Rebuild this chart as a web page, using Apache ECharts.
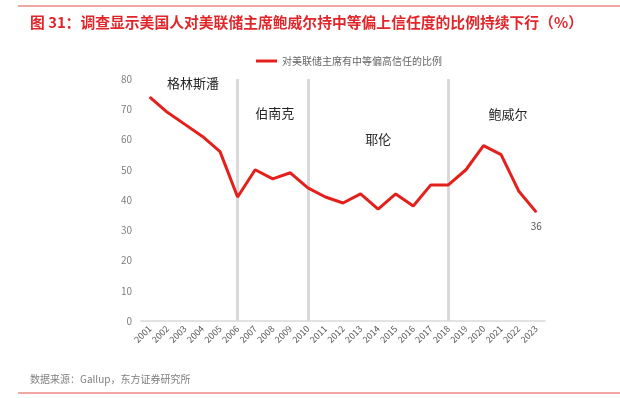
<!DOCTYPE html>
<html>
<head>
<meta charset="utf-8">
<script src="https://cdn.jsdelivr.net/npm/echarts@6/dist/echarts.min.js"></script>
<style>
  html, body { margin: 0; padding: 0; background: #fff; }
  #chart { width: 620px; height: 398px; }
</style>
</head>
<body>
<div id="chart"></div>
<script>
const years = ['2001','2002','2003','2004','2005','2006','2007','2008','2009','2010','2011','2012',
  '2013','2014','2015','2016','2017','2018','2019','2020','2021','2022','2023']
const trustValues = [74, 69, 65, 61, 56, 41, 50, 47, 49, 44, 41, 39, 42, 37, 42, 38, 45, 45, 50, 58, 55, 43, 36]
const dividerYears = ['2006', '2010', '2018']
// 各任主席名字，放在对应年份/数值附近
const chairNames = ['格林斯潘', '伯南克', '耶伦', '鲍威尔']
const chairYears = ['2003', '2008', '2014', '2021']
const chairLevels = [78.7, 68.8, 60.2, 68.4]
const chairOffsets = [[8, 0], [2, 0], [0, 0], [7, 0]]

const myChart = echarts.init(document.getElementById('chart'))
const font = 'Noto Sans CJK SC'

const option = {
  backgroundColor: '#fff',
  textStyle: { fontFamily: font },
  title: {
    text: '图 31：调查显示美国人对美联储主席鲍威尔持中等偏上信任度的比例持续下行（%）',
    left: 25,
    top: 10,
    textStyle: { color: '#e0262a', fontSize: 14.8, fontWeight: 'bold', fontFamily: font }
  },
  legend: {
    top: 51,
    left: 251,
    itemWidth: 21,
    itemHeight: 3,
    icon: 'rect',
    itemGap: 4,
    textStyle: { color: '#666', fontSize: 10 },
    data: ['对美联储主席有中等偏高信任的比例']
  },
  grid: { left: 141, right: 75, top: 79, bottom: 77 },
  xAxis: {
    type: 'category',
    data: years,
    boundaryGap: true,
    axisLine: { lineStyle: { color: '#d9d9d9', width: 1.5 } },
    axisTick: { show: false },
    axisLabel: { rotate: 45, color: '#595959', fontSize: 9, interval: 0, margin: 6 }
  },
  yAxis: {
    type: 'value',
    min: 0,
    max: 80,
    interval: 10,
    splitLine: { show: false },
    axisLine: { show: false },
    axisTick: { show: false },
    axisLabel: { color: '#7f7f7f', fontSize: 10, margin: 9 }
  },
  graphic: [
    { type: 'line', shape: { x1: 18, y1: 6, x2: 620, y2: 6 }, style: { stroke: '#ec8a85', lineWidth: 1.5 } },
    { type: 'line', shape: { x1: 18, y1: 393, x2: 620, y2: 393 }, style: { stroke: '#ec8a85', lineWidth: 1.5 } },
    { type: 'text', left: 30, top: 374, style: { text: '数据来源：Gallup，东方证券研究所', fill: '#808080', fontSize: 10, fontFamily: font } }
  ],
  series: [
    {
      name: '对美联储主席有中等偏高信任的比例',
      type: 'line',
      data: trustValues,
      symbol: 'circle',
      symbolSize: 1,
      showSymbol: true,
      color: '#e3201b',
      itemStyle: { color: '#e3201b' },
      lineStyle: { width: 3, color: '#e3201b' },
      label: {
        show: true,
        position: 'bottom',
        distance: 9,
        color: '#595959',
        fontSize: 10,
        formatter: p => (p.dataIndex === trustValues.length - 1 ? String(p.value) : '')
      },
      markLine: {
        silent: true,
        symbol: 'none',
        label: { show: false },
        lineStyle: { color: '#d9d9d9', width: 3, type: 'solid' },
        data: dividerYears.map(y => ({ xAxis: y }))
      },
      markPoint: {
        symbolSize: 0,
        label: { show: true, color: '#262626', fontSize: 13, formatter: '{b}' },
        data: chairNames.map((n, i) => ({
          name: n,
          coord: [chairYears[i], chairLevels[i]],
          label: { offset: chairOffsets[i] }
        }))
      },
      z: 5
    }
  ]
}

option && myChart.setOption(option)
</script>
</body>
</html>
